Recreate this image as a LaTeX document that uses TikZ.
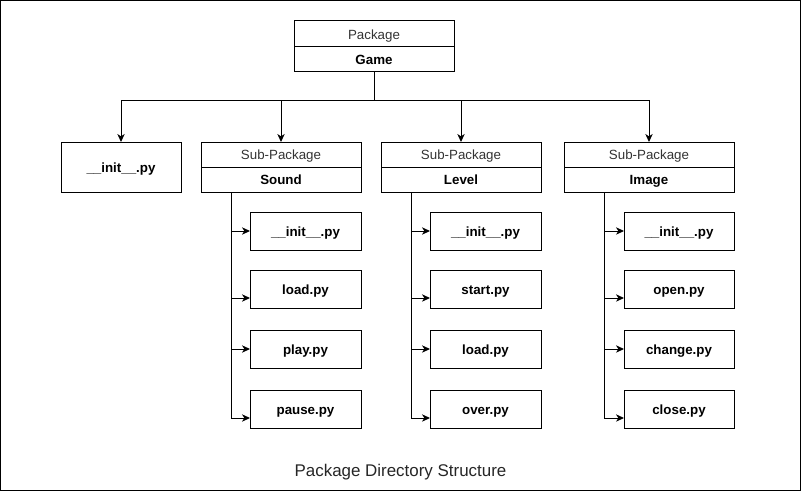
\documentclass[tikz,border=0pt]{standalone}
\usepackage{fontspec}
\setmainfont{Liberation Sans}
\usetikzlibrary{arrows.meta}

\tikzset{every picture/.style={line width=0.75pt}}
\tikzset{
	box/.style={draw, inner sep=0pt, outer sep=0pt, text height=8pt, text depth=0pt, font=\fontsize{10}{12}\selectfont},
	pkghead/.style={box, minimum width=120pt, minimum height=19.5pt, text=black!80},
	pkgbody/.style={box, minimum width=120pt, minimum height=18.75pt, font=\fontsize{10}{12}\selectfont\bfseries},
	subhead/.style={box, minimum width=120pt, minimum height=18.75pt, text=black!80},
	subbody/.style={box, minimum width=120pt, minimum height=18.75pt, font=\fontsize{10}{12}\selectfont\bfseries},
	pyfile/.style={box, minimum width=83.25pt, minimum height=28.5pt, font=\fontsize{10}{12}\selectfont\bfseries},
	arr/.style={-{Stealth[length=6pt,width=5.5pt,inset=1.8pt]}}
}

\begin{document}
\begin{tikzpicture}[x=0.75pt,y=0.75pt,yscale=-1,xscale=1]
	\useasboundingbox (0,0) rectangle (802,492);
	%Frame
	\draw (0.5,0.5) rectangle (800.5,490.5);

	%Package
	\node[pkghead] (gamehead) at (374,34) {Package};
	\node[pkgbody] (game) at (374,59.5) {Game};

	%Top level files and sub-packages
	\node[box, minimum width=90pt, minimum height=37.5pt, font=\fontsize{10}{12}\selectfont\bfseries] (init) at (121,167) {\_\_init\_\_.py};
	\node[subhead] (soundhead) at (281,154.5) {Sub-Package};
	\node[subbody] (sound) at (281,179.5) {Sound};
	\node[subhead] (levelhead) at (461,154.5) {Sub-Package};
	\node[subbody] (level) at (461,179.5) {Level};
	\node[subhead, minimum width=127.5pt] (imagehead) at (649,154.5) {Sub-Package};
	\node[subbody, minimum width=127.5pt] (image) at (649,179.5) {Image};

	%Straight Lines
	\coordinate (hub) at (374,100);
	\draw (game.south) -- (hub);
	\draw[arr] (hub) -| (init.north);
	\draw[arr] (hub) -| (soundhead.north);
	\draw[arr] (hub) -| (levelhead.north);
	\draw[arr] (hub) -| (imagehead.north);

	%Sound files
	\node[pyfile] (snd1) at (305.5,231) {\_\_init\_\_.py};
	\node[pyfile] (snd2) at (305.5,289) {load.py};
	\node[pyfile] (snd3) at (305.5,349) {play.py};
	\node[pyfile] (snd4) at (305.5,409) {pause.py};
	\coordinate (sndroot) at (231,192);
	\coordinate (snd2in) at ([yshift=6.75pt]snd2.west);
	\coordinate (snd4in) at ([yshift=6.75pt]snd4.west);
	\draw[arr] (sndroot) |- (snd4in);
	\draw[arr] (sndroot |- snd1.west) -- (snd1.west);
	\draw[arr] (sndroot |- snd2in) -- (snd2in);
	\draw[arr] (sndroot |- snd3.west) -- (snd3.west);

	%Level files
	\node[pyfile] (lvl1) at (485.5,231) {\_\_init\_\_.py};
	\node[pyfile] (lvl2) at (485.5,289) {start.py};
	\node[pyfile] (lvl3) at (485.5,349) {load.py};
	\node[pyfile] (lvl4) at (485.5,409) {over.py};
	\coordinate (lvlroot) at (411,192);
	\coordinate (lvl2in) at ([yshift=6.75pt]lvl2.west);
	\coordinate (lvl4in) at ([yshift=6.75pt]lvl4.west);
	\draw[arr] (lvlroot) |- (lvl4in);
	\draw[arr] (lvlroot |- lvl1.west) -- (lvl1.west);
	\draw[arr] (lvlroot |- lvl2in) -- (lvl2in);
	\draw[arr] (lvlroot |- lvl3.west) -- (lvl3.west);

	%Image files
	\node[pyfile, minimum width=82.5pt] (img1) at (679,231) {\_\_init\_\_.py};
	\node[pyfile, minimum width=82.5pt] (img2) at (679,289) {open.py};
	\node[pyfile, minimum width=82.5pt] (img3) at (679,349) {change.py};
	\node[pyfile, minimum width=82.5pt] (img4) at (679,409) {close.py};
	\coordinate (imgroot) at (604,193);
	\coordinate (img2in) at ([yshift=6.75pt]img2.west);
	\coordinate (img4in) at ([yshift=6.75pt]img4.west);
	\draw[arr] (imgroot) |- (img4in);
	\draw[arr] (imgroot |- img1.west) -- (img1.west);
	\draw[arr] (imgroot |- img2in) -- (img2in);
	\draw[arr] (imgroot |- img3.west) -- (img3.west);

	% Text Node
	\node[anchor=base, text=black!85, font=\fontsize{12.7}{15}\selectfont] (caption) at (400.5,476.5) {Package Directory Structure};

\end{tikzpicture}
\end{document}
